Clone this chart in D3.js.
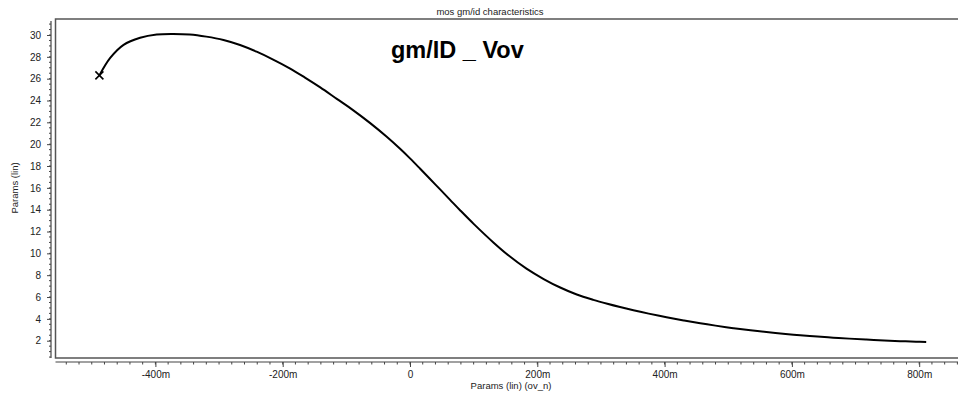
<!DOCTYPE html>
<html>
<head>
<meta charset="utf-8">
<script src="https://cdn.jsdelivr.net/npm/d3@7"></script>
<style>
  body { margin: 0; background: #fff; }
  text { font-family: "Liberation Sans", Arial, sans-serif; }
</style>
</head>
<body>
<div id="chart"></div>
<script>
// overdrive voltage (mV) and gm/ID values
var vov = [-488, -471, -450, -424, -398, -372, -346, -320, -293, -267, -241, -215,
           -189, -165, -141, -115, -89, -63, -37, -16, 0, 16, 40, 63, 79, 100, 131,
           155, 183, 210, 236, 262, 288, 310, 330, 351, 375, 403, 430, 456, 480,
           508, 535, 560, 590, 613, 640, 665, 690, 717, 745, 770, 795, 811];
var gmid = [26.3, 27.9, 29.1, 29.75, 30.05, 30.1, 30.05, 29.85, 29.54, 29.08, 28.47, 27.75,
            26.95, 26.1, 25.2, 24.15, 23.1, 21.95, 20.7, 19.6, 18.7, 17.75, 16.3, 14.9, 13.93, 12.7, 11.0,
            9.8, 8.6, 7.65, 6.87, 6.23, 5.74, 5.38, 5.08, 4.79, 4.48, 4.15, 3.86, 3.6, 3.38,
            3.15, 2.95, 2.79, 2.62, 2.5, 2.38, 2.28, 2.19, 2.1, 2.02, 1.96, 1.91, 1.88];
var xTicks = [-400, -200, 0, 200, 400, 600, 800];
var yTicks = [2, 4, 6, 8, 10, 12, 14, 16, 18, 20, 22, 24, 26, 28, 30];

var chartTitle = "mos gm/id characteristics";
var plotLabel = "gm/ID _ Vov";
var xLabel = "Params (lin) (ov_n)";
var yLabel = "Params (lin)";

function init() {
    var w = 958;
    var h = 394;
    var frame = {left: 55.5, top: 19, right: 960, bottom: 358};

    var svg = d3.select("#chart")
                .append("svg")
                .attr("width", w)
                .attr("height", h);

    var x = d3.scaleLinear().domain([-400, 800]).range([155.4, 919.2]);
    var y = d3.scaleLinear().domain([2, 30]).range([340.7, 35]);

    // title
    svg.append("text")
        .attr("x", 490).attr("y", 15)
        .attr("text-anchor", "middle")
        .style("font-size", "9.5px")
        .style("fill", "#222")
        .text(chartTitle);

    // plot frame
    svg.append("rect")
        .attr("x", frame.left).attr("y", frame.top)
        .attr("width", frame.right - frame.left)
        .attr("height", frame.bottom - frame.top)
        .style("fill", "none")
        .style("stroke", "#555")
        .style("stroke-width", 1.5);

    // y axis (left of frame)
    var yMinor = d3.range(0.5, 31.5, 0.5);
    var yAxis = d3.axisLeft(y).tickValues(yTicks).tickSize(4).tickPadding(6).tickFormat(d3.format("d"));
    var gy = svg.append("g").attr("transform", "translate(51,0)");
    gy.selectAll(".minor")
        .data(yMinor)
        .enter()
        .append("line")
        .attr("class", "minor")
        .attr("x1", -2).attr("x2", 0)
        .attr("y1", function(d){ return y(d); })
        .attr("y2", function(d){ return y(d); })
        .style("stroke", "#444");
    gy.call(yAxis);
    gy.select(".domain").remove();
    gy.append("line")
        .attr("x1", 0).attr("x2", 0)
        .attr("y1", 21).attr("y2", frame.bottom)
        .style("stroke", "#444").style("stroke-width", 1.2);

    // x axis (below frame)
    var xMinor = d3.range(-540, 861, 20);
    var xAxis = d3.axisBottom(x).tickValues(xTicks).tickSize(5).tickPadding(4)
                  .tickFormat(function(d){ return d === 0 ? "0" : d + "m"; });
    var gx = svg.append("g").attr("transform", "translate(0,362)");
    gx.selectAll(".minor")
        .data(xMinor)
        .enter()
        .append("line")
        .attr("class", "minor")
        .attr("y1", 0).attr("y2", 2.5)
        .attr("x1", function(d){ return x(d); })
        .attr("x2", function(d){ return x(d); })
        .style("stroke", "#444");
    gx.call(xAxis);
    gx.select(".domain").remove();
    gx.append("line")
        .attr("x1", 55.5).attr("x2", 958)
        .attr("y1", 0).attr("y2", 0)
        .style("stroke", "#444").style("stroke-width", 1.2);

    svg.selectAll(".tick text")
        .style("font-size", "10px")
        .style("font-family", "'Liberation Sans', Arial, sans-serif")
        .style("fill", "#222");
    svg.selectAll(".tick line").style("stroke", "#444");

    // axis labels
    svg.append("text")
        .attr("x", 511).attr("y", 389)
        .attr("text-anchor", "middle")
        .style("font-size", "9.5px")
        .style("fill", "#222")
        .text(xLabel);
    svg.append("text")
        .attr("transform", "translate(18,188) rotate(-90)")
        .attr("text-anchor", "middle")
        .style("font-size", "9.5px")
        .style("fill", "#222")
        .text(yLabel);

    // annotation inside the plot
    svg.append("text")
        .attr("x", 391).attr("y", 58)
        .style("font-size", "23.5px")
        .style("font-weight", "bold")
        .style("fill", "#000")
        .text(plotLabel);

    // curve
    var pts = vov.map(function(d, i){ return [d, gmid[i]]; });
    var line = d3.line()
                 .x(function(d){ return x(d[0]); })
                 .y(function(d){ return y(d[1]); })
                 .curve(d3.curveCatmullRom.alpha(0.5));
    svg.append("path")
        .datum(pts)
        .attr("d", line)
        .style("fill", "none")
        .style("stroke", "#000")
        .style("stroke-width", 2);

    // start marker (x)
    var sx = x(pts[0][0]), sy = y(pts[0][1]);
    svg.append("path")
        .attr("d", "M" + (sx - 4) + "," + (sy - 4) + "L" + (sx + 4) + "," + (sy + 4) +
                   "M" + (sx - 4) + "," + (sy + 4) + "L" + (sx + 4) + "," + (sy - 4))
        .style("stroke", "#000")
        .style("stroke-width", 1.6);
}

window.onload = init;
</script>
</body>
</html>
